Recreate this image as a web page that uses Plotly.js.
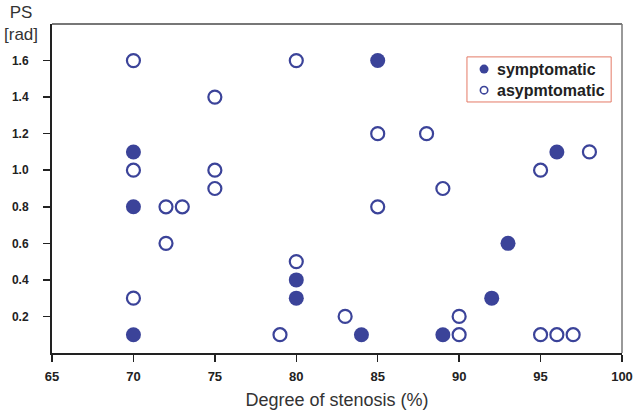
<!DOCTYPE html>
<html>
<head>
<meta charset="utf-8">
<script src="https://cdn.plot.ly/plotly-3.0.1.min.js"></script>
<style>
  html, body { margin: 0; padding: 0; background: #fff; }
  #chart { width: 638px; height: 411px; }
</style>
</head>
<body>
<div id="chart"></div>
<script>
// symptomatic (filled)
const sympX = [70, 70, 70, 80, 80, 84, 85, 89, 92, 93, 96];
const sympY = [1.1, 0.8, 0.1, 0.4, 0.3, 0.1, 1.6, 0.1, 0.3, 0.6, 1.1];

// asymptomatic (open)
const asymX = [70, 70, 70, 72, 73, 72, 75, 75, 75, 79, 80, 80, 83, 85, 85, 88, 89, 90, 90, 95, 95, 96, 97, 98];
const asymY = [1.6, 1.0, 0.3, 0.8, 0.8, 0.6, 1.4, 1.0, 0.9, 0.1, 1.6, 0.5, 0.2, 1.2, 0.8, 1.2, 0.9, 0.2, 0.1, 1.0, 0.1, 0.1, 0.1, 1.1];

const xTicks = [65, 70, 75, 80, 85, 90, 95, 100];
const yTicks = [0.2, 0.4, 0.6, 0.8, 1.0, 1.2, 1.4, 1.6];
const seriesNames = ["symptomatic", "asypmtomatic"];

const BLUE = "#3b4399";

const traces = [
    {
        x: sympX, y: sympY, type: "scatter", mode: "markers", name: seriesNames[0],
        marker: {color: BLUE, size: 15},
        showlegend: false
    },
    {
        x: asymX, y: asymY, type: "scatter", mode: "markers", name: seriesNames[1],
        marker: {color: "#ffffff", size: 13, line: {color: BLUE, width: 2.2}},
        showlegend: false
    }
];

// legend box drawn in paper coords (plot area is 570 x 329 px)
const PW = 570, PH = 329;
const lgX0 = 0.728, lgX1 = 0.981, lgY0 = 0.763, lgY1 = 0.9;
const rowY = [0.863, 0.799];
const symX = 0.758, txtX = 0.777;
const r = 4.5;

const legendShapes = [
    {type: "rect", xref: "paper", yref: "paper", x0: lgX0, x1: lgX1, y0: lgY0, y1: lgY1,
        line: {color: "#e47a66", width: 1}, fillcolor: "#ffffff"},
    {type: "circle", xref: "paper", yref: "paper",
        x0: symX - r / PW, x1: symX + r / PW, y0: rowY[0] - r / PH, y1: rowY[0] + r / PH,
        line: {color: BLUE, width: 0}, fillcolor: BLUE},
    {type: "circle", xref: "paper", yref: "paper",
        x0: symX - (r - 0.8) / PW, x1: symX + (r - 0.8) / PW, y0: rowY[1] - (r - 0.8) / PH, y1: rowY[1] + (r - 0.8) / PH,
        line: {color: BLUE, width: 1.6}, fillcolor: "#ffffff"}
];

const legendText = seriesNames.map((name, i) => ({
    text: name, xref: "paper", yref: "paper",
    x: txtX, y: rowY[i], xanchor: "left", yanchor: "middle",
    showarrow: false, font: {size: 16, weight: "bold", color: "#222"}
}));

const layout = {
    width: 638,
    height: 411,
    margin: {l: 52, r: 16, t: 24, b: 58},
    paper_bgcolor: "#ffffff",
    plot_bgcolor: "#ffffff",
    showlegend: false,
    font: {family: "Arial, 'Liberation Sans', sans-serif", color: "#222"},
    xaxis: {
        range: [65, 100],
        tickvals: xTicks,
        ticktext: xTicks.map(String),
        showgrid: false, zeroline: false,
        showline: true, linecolor: "#222", linewidth: 2,
        ticks: "outside", ticklen: 7, tickwidth: 1.5, tickcolor: "#222",
        ticklabelstandoff: 3,
        tickfont: {size: 13, weight: "bold", color: "#222"},
        title: {text: "Degree of stenosis (%)", font: {size: 18, color: "#333"}, standoff: 11}
    },
    yaxis: {
        range: [0, 1.8],
        tickvals: yTicks,
        ticktext: yTicks.map(v => v.toFixed(1)),
        showgrid: false, zeroline: false,
        showline: true, linecolor: "#222", linewidth: 2,
        ticks: "outside", ticklen: 7, tickwidth: 1.5, tickcolor: "#222",
        ticklabelstandoff: 12,
        tickfont: {size: 12, weight: "bold", color: "#222"}
    },
    shapes: [
        // grey top and right frame
        {type: "line", xref: "paper", yref: "paper", x0: 0, x1: 1, y0: 1, y1: 1, line: {color: "#777", width: 2}},
        {type: "line", xref: "paper", yref: "paper", x0: 1, x1: 1, y0: 0, y1: 1, line: {color: "#777", width: 1.5}},
        ...legendShapes
    ],
    annotations: [
        {
            text: "PS<br>[rad]", xref: "paper", yref: "paper",
            x: -0.054, y: 1.07, xanchor: "center", yanchor: "top",
            showarrow: false, font: {size: 17, color: "#333"}
        },
        ...legendText
    ]
};

Plotly.newPlot("chart", traces, layout, {displayModeBar: false, staticPlot: true});
</script>
</body>
</html>
